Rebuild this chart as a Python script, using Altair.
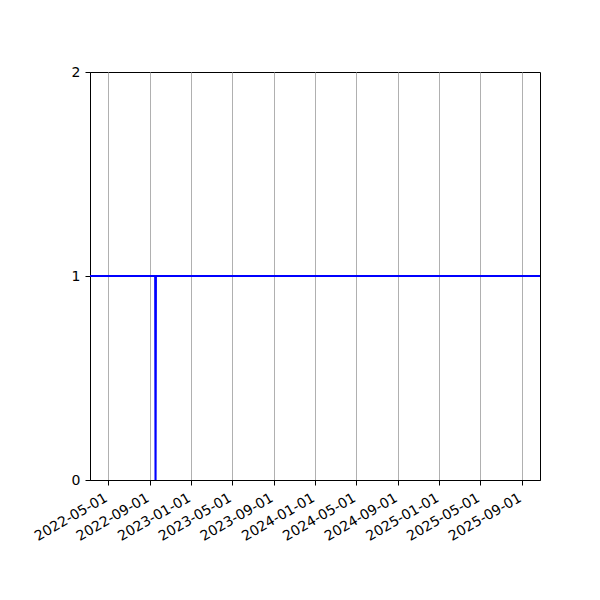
import altair as alt
import pandas as pd

dates = ["2022-03-09", "2022-09-17", "2022-09-18", "2022-09-19", "2025-10-24"]
values = [1, 1, 0, 1, 1]

tick_dates = [
    (2022, 5), (2022, 9), (2023, 1), (2023, 5), (2023, 9), (2024, 1),
    (2024, 5), (2024, 9), (2025, 1), (2025, 5), (2025, 9),
]
y_ticks = [0, 1, 2]

df = pd.DataFrame({"date": dates, "value": values})

x_values = [alt.DateTime(year=y, month=m, date=1, utc=True) for y, m in tick_dates]

chart = alt.Chart(df).mark_line(color="#0000ff", strokeWidth=2.1, clip=True).encode(
    x=alt.X(
        "date:T",
        scale=alt.Scale(
            type="utc",
            domain=[alt.DateTime(year=2022, month=3, date=9, utc=True),
                    alt.DateTime(year=2025, month=10, date=24, utc=True)],
        ),
        axis=alt.Axis(
            values=x_values,
            labelExpr="utcFormat(datum.value, '%Y-%m-%d')",
            labelAngle=-30,
            labelAlign="right",
            labelBaseline="alphabetic",
            labelPadding=15,
            grid=True,
            gridColor="#b0b0b0",
            gridWidth=1,
            title=None,
            tickSize=5,
            tickColor="black",
            domainColor="black",
            labelFont="DejaVu Sans",
            labelFontSize=14,
            labelColor="black",
            labelOverlap=False,
            labelFlush=False,
        ),
    ),
    y=alt.Y(
        "value:Q",
        scale=alt.Scale(domain=[0, 2], nice=False, zero=False),
        axis=alt.Axis(
            values=y_ticks,
            labelExpr="format(datum.value, 'd')",
            grid=False,
            title=None,
            tickSize=5,
            tickColor="black",
            domainColor="black",
            labelFont="DejaVu Sans",
            labelFontSize=14,
            labelColor="black",
            labelPadding=5,
            labelOverlap=False,
            labelFlush=False,
        ),
    ),
).properties(
    width=450,
    height=408,
    padding={"left": 82, "top": 64, "right": 50, "bottom": 100},
    autosize=alt.AutoSizeParams(type="none"),
).configure_view(
    stroke="black",
    strokeWidth=1,
)

chart.save("out.html", embed_options={"renderer": "svg", "actions": False})
